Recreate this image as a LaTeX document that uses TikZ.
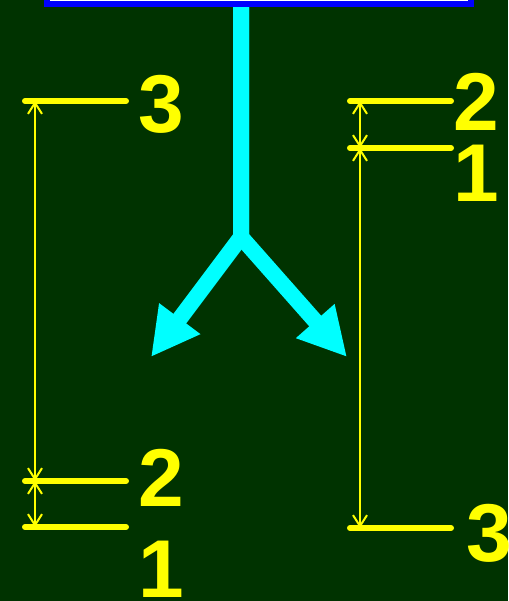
\documentclass[tikz,border=0pt]{standalone}
\usepackage{fontspec}
\setmainfont{Liberation Sans}
\usepackage{tikz}
\usetikzlibrary{arrows.meta}
\definecolor{bgreen}{HTML}{003300}
\definecolor{lyellow}{HTML}{FFFF00}
\definecolor{acyan}{HTML}{00FFFF}
\definecolor{fblue}{HTML}{0000FF}

\begin{document}
\begin{tikzpicture}[x=1pt,y=-1pt,
  lvl/.style={lyellow,line width=6pt,line cap=round},
  dimline/.style={lyellow,line width=2pt,{Straight Barb[length=11pt,width=14pt]}-{Straight Barb[length=11pt,width=14pt]}},
  num/.style={text=lyellow,font=\bfseries\fontsize{82}{82}\selectfont,inner sep=0pt},
  flow/.style={acyan,line width=16pt,line join=miter,-{Triangle[length=48pt,width=48pt]}}]
\useasboundingbox (0,0) rectangle (508,601);
\fill[bgreen] (0,0) rectangle (508,601);
\clip (0,0) rectangle (508,601);
\coordinate (top) at (241,0);
\coordinate (fork) at (241,237);
\coordinate (tipL) at (151,357);
\coordinate (tipR) at (347,357);
\draw[flow] (top)--(fork)--(tipL);
\draw[flow] (top)--(fork)--(tipR);
\draw[fblue,fill=white,line width=6pt] (46.5,-40) rectangle (470.5,4.5);
\coordinate (a3) at (35,101);
\coordinate (a2) at (35,481);
\coordinate (a1) at (35,527);
\coordinate (b2) at (360,101);
\coordinate (b1) at (360,148);
\coordinate (b3) at (360,528);
\foreach \c in {a3,a2,a1,b2,b1,b3}
  \draw[lvl] ([xshift=-10pt]\c) -- ++(101,0);
\draw[dimline] (a3)--(a2);
\draw[dimline] (a2)--(a1);
\draw[dimline] (b2)--(b1);
\draw[dimline] (b1)--(b3);
\node[num] (la3) at (161,104) {3};
\node[num] (la2) at (161,478) {2};
\node[num] (la1) at (161,569) {1};
\node[num] (lb2) at (476,102) {2};
\node[num] (lb1) at (476,173) {1};
\node[num] (lb3) at (489,533) {3};
\end{tikzpicture}
\end{document}
